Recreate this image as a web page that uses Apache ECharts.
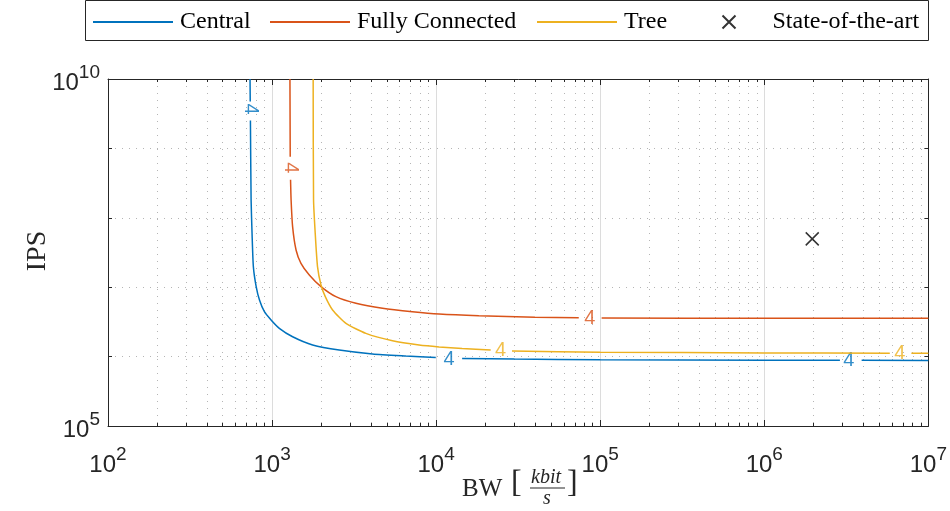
<!DOCTYPE html>
<html>
<head>
<meta charset="utf-8">
<script src="https://cdn.jsdelivr.net/npm/echarts@6/dist/echarts.min.js"></script>
<style>
  html, body { margin: 0; padding: 0; background: #fff; }
  #chart { width: 950px; height: 511px; }
</style>
</head>
<body>
<div id="chart"></div>
<script>
// curves, null = gap where the contour label sits
const centralBW  = [734, 736, null, 738, 745, 755, 769, 800, 838, 898, 986, 1107, 1334, 1766, 2565, 4093, 6531, 9950, null, 14400, 30000, 1e5, 1e6, 2.89e6, null, 3.92e6, 1e7];
const centralIPS = [1e10, 4.75e9, null, 2.53e9, 1.81e8, 6.0e7, 1.98e7, 1.02e7, 6.53e6, 4.43e6, 3.37e6, 2.55e6, 1.93e6, 1.47e6, 1.24e6, 1.09e6, 1.02e6, 9.7e5, null, 9.4e5, 9.2e5, 9.0e5, 8.87e5, 8.85e5, null, 8.85e5, 8.8e5];

const fullBW  = [1285, 1290, null, 1296, 1306, 1334, 1400, 1500, 1686, 1986, 2449, 3243, 4710, 7160, 10420, 18200, 40000, 74000, null, 1.02e5, 1e6, 1e7];
const fullIPS = [1e10, 7.57e8, null, 3.53e8, 1.81e8, 7.46e7, 3.44e7, 2.21e7, 1.5e7, 1.02e7, 7.3e6, 5.86e6, 4.97e6, 4.43e6, 4.1e6, 3.88e6, 3.7e6, 3.63e6, null, 3.6e6, 3.57e6, 3.56e6];

const treeBW  = [1780, 1790, 1832, 1892, 1986, 2110, 2338, 2821, 3730, 5420, 7870, 10420, 14400, 21500, null, 29000, 1e5, 1e6, 5.82e6, null, 7.88e6, 1e7];
const treeIPS = [1e10, 1.81e8, 6.0e7, 1.98e7, 1.08e7, 7.3e6, 4.69e6, 3.01e6, 2.16e6, 1.69e6, 1.47e6, 1.38e6, 1.31e6, 1.24e6, null, 1.2e6, 1.16e6, 1.13e6, 1.12e6, null, 1.12e6, 1.12e6];

// contour label spots: [BW, IPS, rotation]
const centralLabels = [[736, 3.69e9, -90], [11980, 9.1e5, 0], [3.28e6, 8.85e5, 0]];
const fullLabels    = [[1291, 5.25e8, -90], [86300, 3.6e6, 0]];
const treeLabels    = [[24700, 1.22e6, 0], [6.7e6, 1.12e6, 0]];

const sotaBW  = [1.96e6];
const sotaIPS = [4.97e7];

const levelText = '4';
const names = ['Central', 'Fully Connected', 'Tree', 'State-of-the-art'];
const colors = ['#0072BD', '#D95319', '#EDB120'];

function zip(xs, ys) {
    let out = [];
    for (let i = 0; i < xs.length; i++) {
        if (xs[i] == null) out.push(['-', '-']);
        else out.push([xs[i], ys[i]]);
    }
    return out;
}

function labelData(list) {
    return list.map(function (p) {
        return { value: [p[0], p[1]], label: { rotate: p[2] } };
    });
}

const axisColor = '#262626';
const serif = 'Liberation Serif';
const sans = 'Liberation Sans';
const crossPath = 'path://M0,0L10,10M10,0L0,10';

function powLabel(v) {
    let e = Math.round(Math.log10(v));
    return '{b|10}{s|' + e + '}';
}
const powRich = {
    b: { fontSize: 24, fontFamily: sans, color: axisColor, verticalAlign: 'bottom', lineHeight: 26 },
    s: { fontSize: 19, fontFamily: sans, color: axisColor, verticalAlign: 'bottom', padding: [0, 0, 13, 0] }
};

let chart = echarts.init(document.getElementById('chart'));

let dotted = { color: '#b5b5b5', width: 1, type: [1, 6] };

let legendText = { fontFamily: serif, fontSize: 24, color: '#000' };

function curve(i, xs, ys) {
    return {
        name: names[i], type: 'line', data: zip(xs, ys), showSymbol: false, symbol: 'none',
        smooth: 0.2, connectNulls: false, silent: true,
        lineStyle: { color: colors[i], width: 1.5 }, itemStyle: { color: colors[i] }
    };
}

let option = {
    animation: false,
    grid: { left: 108, right: 20, top: 79, bottom: 85 },
    graphic: [
        { type: 'rect', shape: { x: 85.5, y: 0.5, width: 843, height: 40 },
          style: { fill: 'none', stroke: axisColor, lineWidth: 1 }, silent: true },
        { type: 'text', x: 38, y: 251, rotation: Math.PI / 2,
          style: { text: 'IPS', font: '28px "Liberation Serif"', fill: axisColor, align: 'center', verticalAlign: 'middle' } },
        { type: 'text', left: 462, top: 477, style: { text: 'BW', font: '25px "Liberation Serif"', fill: axisColor } },
        { type: 'text', left: 511, top: 468, style: { text: '[', font: '32px "Liberation Serif"', fill: axisColor } },
        { type: 'text', left: 531, top: 468, style: { text: 'kbit', font: 'italic 20px "Liberation Serif"', fill: axisColor } },
        { type: 'line', shape: { x1: 530, y1: 488, x2: 565, y2: 488 }, style: { stroke: axisColor, lineWidth: 1.2 } },
        { type: 'text', left: 543, top: 489, style: { text: 's', font: 'italic 20px "Liberation Serif"', fill: axisColor } },
        { type: 'text', left: 567, top: 468, style: { text: ']', font: '32px "Liberation Serif"', fill: axisColor } }
    ],
    legend: [
        { data: [{ name: names[0], icon: 'rect' }], left: 93, itemWidth: 80, itemHeight: 2 },
        { data: [{ name: names[1], icon: 'rect' }], left: 270, itemWidth: 80, itemHeight: 2 },
        { data: [{ name: names[2], icon: 'rect' }], left: 537, itemWidth: 80, itemHeight: 2 },
        { data: [{ name: names[3], icon: crossPath }], left: 720, itemWidth: 13, itemHeight: 13,
          textStyle: Object.assign({ padding: [0, 0, 0, 32] }, legendText) }
    ].map(function (l) {
        return Object.assign({
            top: 10, padding: 0, itemGap: 0, selectedMode: false,
            textStyle: Object.assign({ padding: [0, 0, 0, 2] }, legendText)
        }, l);
    }),
    xAxis: [{
        type: 'log', logBase: 10, min: 100, max: 1e7, position: 'bottom',
        axisLine: { lineStyle: { color: axisColor, width: 1 } },
        axisTick: { inside: true, length: 6, lineStyle: { color: axisColor } },
        minorTick: { show: true, splitNumber: 9, length: 3, lineStyle: { color: axisColor } },
        axisLabel: { formatter: powLabel, rich: powRich, margin: 19 },
        splitLine: { show: true, lineStyle: { color: '#dcdcdc', width: 1 } },
        minorSplitLine: { show: true, lineStyle: dotted }
    }, {
        type: 'log', logBase: 10, min: 100, max: 1e7, position: 'top',
        axisLine: { show: true, lineStyle: { color: axisColor, width: 1 } },
        axisTick: { inside: true, length: 6, lineStyle: { color: axisColor } },
        minorTick: { show: true, splitNumber: 9, length: 3, lineStyle: { color: axisColor } },
        axisLabel: { show: false },
        splitLine: { show: false }
    }],
    yAxis: [{
        type: 'log', logBase: 10, min: 1e5, max: 1e10, position: 'left',
        axisLine: { show: true, lineStyle: { color: axisColor, width: 1 } },
        axisTick: { inside: true, length: 4, lineStyle: { color: axisColor } },
        axisLabel: {
            margin: 8, rich: powRich,
            formatter: function (v) {
                let e = Math.round(Math.log10(v));
                return (e == 5 || e == 10) ? powLabel(v) : '';
            }
        },
        splitLine: { show: true, lineStyle: dotted }
    }, {
        type: 'log', logBase: 10, min: 1e5, max: 1e10, position: 'right',
        axisLine: { show: true, lineStyle: { color: axisColor, width: 1 } },
        axisTick: { inside: true, length: 4, lineStyle: { color: axisColor } },
        axisLabel: { show: false },
        splitLine: { show: false }
    }],
    series: [
        curve(0, centralBW, centralIPS),
        curve(1, fullBW, fullIPS),
        curve(2, treeBW, treeIPS),
        { name: names[3], type: 'scatter', data: zip(sotaBW, sotaIPS),
          symbol: crossPath, symbolSize: 13,
          itemStyle: { color: 'none', borderColor: '#000', borderWidth: 1.5 }, silent: true }
    ].concat([centralLabels, fullLabels, treeLabels].map(function (list, i) {
        return {
            type: 'scatter', data: labelData(list), symbolSize: 1, silent: true,
            itemStyle: { color: 'rgba(0,0,0,0)' },
            label: { show: true, position: 'inside', formatter: levelText,
                     fontFamily: sans, fontSize: 20, color: colors[i] }
        };
    }))
};

chart.setOption(option);
</script>
</body>
</html>
